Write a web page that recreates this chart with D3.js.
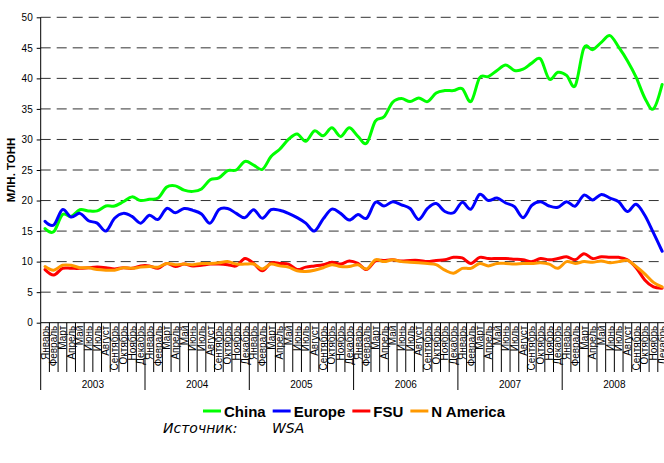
<!DOCTYPE html>
<html><head><meta charset="utf-8">
<script src="https://cdn.jsdelivr.net/npm/d3@7/dist/d3.min.js"></script>
<style>body{margin:0;background:#fff}svg{display:block}</style>
</head><body><svg id="c" width="664" height="463"></svg>
<script>
const years = ["2003","2004","2005","2006","2007","2008"];
const months = ["Январь","Февраль","Март","Апрель","Май","Июнь","Июль","Август","Сентябрь","Октябрь","Ноябрь","Декабрь"];
const yTicks = [0,5,10,15,20,25,30,35,40,45,50];
const seriesNames = ["China","Europe","FSU","N America"];
const seriesColors = ["#00FF00","#0000FF","#FF0000","#FF9900"];
const china = [
 15.4,14.9,17.7,17.4,18.5,18.3,18.3,19.1,19.1,19.8,20.6,20.0,
 20.2,20.4,22.2,22.4,21.7,21.5,21.9,23.4,23.7,24.9,25.0,26.4,
 25.8,25.1,27.2,28.4,30.0,30.9,29.7,31.4,30.6,31.9,30.5,31.9,
 30.5,29.4,33.0,33.7,36.1,36.7,36.2,36.8,36.2,37.6,38.0,38.0,
 38.3,36.2,40.1,40.3,41.3,42.2,41.3,41.5,42.5,43.2,39.9,41.0,
 40.5,38.8,45.0,44.7,45.9,47.0,45.1,42.9,40.2,36.8,35.0,39.0];
const europe = [
 16.6,16.0,18.5,17.3,17.9,16.7,16.3,15.0,17.1,17.9,17.4,16.3,
 17.6,16.9,18.7,18.0,18.7,18.4,17.8,16.3,18.5,18.7,17.9,17.2,
 18.5,17.1,18.5,18.4,17.9,17.2,16.3,15.0,17.0,18.6,17.9,16.8,
 17.7,17.1,19.7,19.1,19.8,19.3,18.7,16.9,18.7,19.5,18.2,18.0,
 19.7,18.6,21.0,20.0,20.4,19.6,19.0,17.2,19.2,19.8,19.1,18.9,
 19.8,19.1,20.9,20.1,21.0,20.4,19.8,18.2,19.4,17.6,14.7,11.7];
const fsu = [
 8.7,7.8,8.9,8.9,8.9,9.0,9.1,9.0,8.8,9.0,8.9,9.3,
 9.3,8.9,9.7,9.2,9.6,9.3,9.4,9.6,9.6,9.5,9.3,10.5,
 9.7,8.5,9.8,9.7,9.6,8.7,9.1,9.3,9.5,9.9,9.6,10.1,
 9.7,8.7,10.1,10.2,10.3,10.1,10.2,10.2,10.0,10.2,10.3,10.7,
 10.6,9.7,10.7,10.5,10.5,10.5,10.4,10.3,10.0,10.5,10.3,10.5,
 10.8,10.3,11.3,10.5,10.8,10.7,10.7,10.3,9.0,7.0,5.85,5.65];
const nAmerica = [
 9.2,8.6,9.4,9.4,9.0,9.0,8.7,8.6,8.6,9.0,8.9,9.1,
 9.2,9.1,9.7,9.5,9.6,9.5,9.7,9.7,9.8,10.0,9.6,9.6,
 9.6,8.8,9.6,9.3,9.1,8.5,8.4,8.6,9.0,9.5,9.2,9.2,
 9.5,8.8,10.3,10.0,10.3,10.0,9.9,9.8,9.7,9.5,8.6,8.1,
 8.9,8.9,9.7,9.3,9.7,9.7,9.6,9.7,9.7,9.8,9.6,8.9,
 10.0,9.7,10.0,9.9,10.1,9.8,10.0,10.2,9.2,8.0,6.6,5.85];
const yLabel = "МЛН. ТОНН";
const sourceLabel = "Источник:";
const sourceName = "WSA";

const svg = d3.select("#c");
const FONT = "Arial, 'Liberation Sans', sans-serif";
const L = 40.7, R = 666.5, T = 17.3, B = 322.7;
const cats = [];
years.forEach(y => months.forEach(m => cats.push(y + "|" + m)));
const x = d3.scaleBand().domain(cats).range([L, R]).padding(0);
const y = d3.scaleLinear().domain([0, 50]).range([B, T]);
const cx = i => x(cats[i]) + x.bandwidth() / 2;

// grid
svg.append("g").selectAll("line").data(yTicks.filter(t => t > 0)).join("line")
  .attr("x1", L).attr("x2", 664).attr("y1", d => y(d)).attr("y2", d => y(d))
  .attr("stroke", "#333").attr("stroke-width", 1).attr("stroke-dasharray", "10,6");

// y axis
const yAxis = d3.axisLeft(y).tickValues(yTicks).tickSize(4).tickPadding(4);
const gy = svg.append("g").attr("transform", `translate(${L},0)`).call(yAxis);
gy.select(".domain").remove();
gy.selectAll("text").attr("font-family", FONT).attr("font-size", 10).attr("fill", "#000");
gy.selectAll("line").attr("stroke", "#000");
svg.append("line").attr("x1", L).attr("x2", L).attr("y1", T).attr("y2", B).attr("stroke", "#000");

// x axis line
svg.append("line").attr("x1", L).attr("x2", 664).attr("y1", B).attr("y2", B).attr("stroke", "#000");
// month separators
const sep = svg.append("g");
cats.forEach((c, i) => {
  const xx = x(c);
  sep.append("line").attr("x1", xx).attr("x2", xx).attr("y1", B)
    .attr("y2", i % 12 === 0 ? 390 : 372).attr("stroke", "#000");
});
// month labels
svg.append("g").selectAll("text").data(cats).join("text")
  .attr("transform", (d, i) => `translate(${cx(i) + 3.6},${B + 3}) rotate(-90)`)
  .attr("text-anchor", "end").attr("font-family", FONT).attr("font-size", 10)
  .text(d => d.split("|")[1]);
// year labels
svg.append("g").selectAll("text").data(years).join("text")
  .attr("x", (d, k) => (x(d + "|" + months[0]) + x(d + "|" + months[11]) + x.bandwidth()) / 2)
  .attr("y", 388).attr("text-anchor", "middle").attr("font-family", FONT).attr("font-size", 10)
  .text(d => d);

// series
const series = [china, europe, fsu, nAmerica];
const line = d3.line().x((d, i) => cx(i)).y(d => y(d)).curve(d3.curveCardinal.tension(0));
svg.append("defs").append("clipPath").attr("id", "clip").append("rect")
  .attr("x", 0).attr("y", 0).attr("width", 664).attr("height", 463);
series.forEach((s, k) => {
  svg.append("path").datum(s).attr("d", line).attr("fill", "none")
    .attr("stroke", seriesColors[k]).attr("stroke-width", 3)
    .attr("stroke-linejoin", "round").attr("stroke-linecap", "round");
});

// y label
svg.append("text").attr("transform", "translate(15,170) rotate(-90)")
  .attr("text-anchor", "middle").attr("font-family", FONT).attr("font-weight", "bold")
  .attr("font-size", 11.5).text(yLabel);

// legend
let lx = 203;
const lg = svg.append("g");
seriesNames.forEach((n, k) => {
  lg.append("line").attr("x1", lx).attr("x2", lx + 18).attr("y1", 411).attr("y2", 411)
    .attr("stroke", seriesColors[k]).attr("stroke-width", 3);
  const t = lg.append("text").attr("x", lx + 21).attr("y", 417).attr("font-family", FONT)
    .attr("font-weight", "bold").attr("font-size", 15).text(n);
  lx += 21 + t.node().getComputedTextLength() + 7;
});

// source
svg.append("text").attr("x", 163).attr("y", 433).attr("font-family", "'DejaVu Sans', sans-serif")
  .attr("font-style", "italic").attr("font-size", 14).attr("fill", "#000").text(sourceLabel);
svg.append("text").attr("x", 272).attr("y", 433).attr("font-family", "'DejaVu Sans', sans-serif")
  .attr("font-style", "italic").attr("font-size", 14).attr("fill", "#000").text(sourceName);
</script></body></html>
